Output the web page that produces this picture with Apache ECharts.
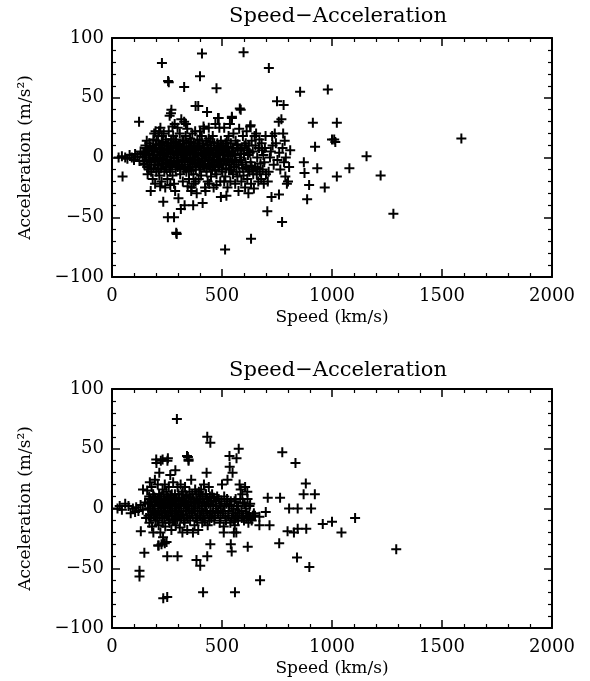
<!DOCTYPE html>
<html>
<head>
<meta charset="utf-8">
<script src="https://cdn.jsdelivr.net/npm/echarts@6/dist/echarts.min.js"></script>
<style>
  html, body { margin: 0; padding: 0; background: #fff; }
  #main { width: 590px; height: 681px; }
</style>
</head>
<body>
<div id="main"></div>
<script>
// axis ranges and labels
const chartTitle = 'Speed\u2212Acceleration';
const xName = 'Speed (km/s)';
const yName = 'Acceleration (m/s\u00b2)';
const xRange = [0, 2000];
const yRange = [-100, 100];

// upper panel: [speed km/s, acceleration m/s^2]
const topPoints = [
  // low speed tail
  [30,0],[45,1],[60,0],[70,-1],[80,2],[90,0],[100,-2],[105,3],[115,1],[125,-3],[130,5],[140,0],[145,-5],[150,3],[48,-16],[123,30],
  // cluster edges
  [155,8],[160,-8],[165,2],[170,12],[172,-3],[178,-12],[180,6],[185,-18],[188,15],[190,0],[195,-6],[198,22],[200,10],[176,-28],[192,20],[196,-22],[158,14],[162,-14],
  [205,-2],[208,5],[210,18],[212,-10],[215,-15],[218,8],[220,25],[222,0],[225,-20],[228,12],[230,-5],[232,3],[235,20],[238,-12],[240,6],[242,-25],[245,15],[248,-2],[250,10],[219,-24],[233,-37],[214,22],[226,18],[246,-8],
  [252,-18],[255,4],[258,22],[260,-8],[262,35],[265,12],[268,-3],[270,40],[272,8],[275,-15],[278,18],[280,0],[282,-22],[285,28],[288,5],[290,-10],[292,15],[295,-4],[298,25],[300,2],[265,-23],[254,-50],[282,-50],[292,-63],[302,-34],[313,-43],[268,37],[275,26],[263,-5],[287,-28],
  [302,10],[305,-6],[308,20],[310,-14],[312,4],[315,32],[318,-2],[320,14],[322,-20],[325,8],[328,30],[330,-8],[332,2],[335,18],[338,-12],[340,6],[342,24],[345,-4],[348,12],[350,-18],[344,-24],[330,-40],[325,-10],[336,28],
  [352,0],[355,16],[358,-8],[360,8],[362,-25],[365,20],[368,3],[370,-14],[372,12],[375,-5],[378,22],[380,-20],[382,7],[385,-30],[388,15],[390,-2],[392,43],[395,10],[398,-10],[400,22],[369,-40],[380,43],[360,-28],[372,-22],[394,-18],
  [402,4],[405,-15],[408,18],[410,-3],[412,-38],[415,10],[418,24],[420,-8],[422,2],[425,-28],[428,14],[430,-12],[432,38],[435,6],[438,-5],[440,16],[442,-22],[445,0],[448,10],[450,-16],[423,-25],[435,-20],[416,26],[440,25],
  [452,6],[455,-10],[458,18],[460,2],[462,-25],[465,12],[468,-6],[470,28],[472,4],[475,-14],[478,8],[480,-3],[482,33],[485,10],[488,-8],[490,2],[492,-20],[495,14],[498,-5],[500,6],[475,-23],[495,-33],[488,25],
  [502,-12],[505,10],[508,-2],[510,25],[512,4],[515,-16],[518,8],[520,-6],[522,14],[525,-25],[528,2],[530,18],[532,-10],[535,5],[538,-20],[540,12],[542,-4],[545,33],[548,8],[550,-14],[520,-32],[510,-20],[536,28],
  [552,20],[555,-8],[558,2],[560,-22],[562,14],[565,-4],[568,10],[570,-16],[572,6],[575,-28],[578,24],[580,-12],[582,0],[585,40],[588,-20],[590,8],[592,-6],[595,18],[598,-15],[600,3],
  [605,-25],[608,12],[610,-8],[612,22],[615,-18],[618,2],[620,-30],[622,10],[625,-12],[628,26],[630,-4],[632,-22],[635,14],[638,-10],[640,5],[645,-26],[648,18],[650,-8],
  [655,20],[658,-14],[660,0],[665,-20],[668,8],[670,15],[675,-5],[678,-18],[680,12],[685,-10],[688,2],[690,-22],[695,8],[698,18],[700,-14],
  [708,-20],[712,-12],[718,0],[722,5],[728,18],[730,10],[735,-6],[740,20],[745,12],[752,-2],[758,30],[760,4],[765,-10],[770,32],[775,8],[778,20],[782,-4],[785,14],[788,-16],[790,0],[795,-22],[800,-20],[805,-8],[810,6],
  // outliers
  [227,79],[255,64],[258,63],[328,59],[400,68],[409,87],[475,58],[598,88],[713,75],[581,41],[545,34],[485,33],[630,27],[750,47],[780,44],
  [855,55],[872,-4],[875,-13],[887,-35],[896,-23],[913,29],[923,9],[933,-9],[967,-25],[981,57],[1000,15],[1010,15],[1022,29],[1022,-16],[1015,13],
  [1079,-9],[1157,1],[1221,-15],[1279,-47],[1588,16],
  [294,-64],[514,-77],[632,-68],[706,-45],[759,-31],[725,-33],[773,-54]
];

// upper panel, solid core of the cloud
const topCore = [
  [142,4],[148,-6],[152,10],[157,-2],[163,6],[167,-10],[171,3],[174,9],[179,-4],[183,2],[186,8],[189,-9],[193,5],[197,-1],[201,-12],[203,14],[206,2],[209,-7],
  [213,11],[216,-3],[219,4],[223,-9],[226,7],[229,-1],[231,13],[234,-6],[237,2],[239,10],[243,-4],[247,6],[249,-10],[253,1],[256,12],[259,-5],[261,6],[264,-12],
  [267,3],[269,15],[273,-7],[276,5],[279,10],[281,-5],[284,-1],[287,13],[289,-6],[293,4],[296,9],[299,-8],[303,-3],[306,6],[309,11],[311,-9],[314,0],[317,8],
  [319,-6],[323,3],[326,14],[329,-3],[331,9],[334,-9],[337,4],[339,12],[343,-1],[346,6],[349,-10],[351,9],[354,-3],[357,3],[359,13],[361,-11],[364,5],[367,-6],
  [369,10],[373,-2],[376,7],[379,0],[381,-10],[384,4],[387,-4],[389,9],[393,2],[396,-6],[399,14],[403,-8],[406,6],[409,-1],[411,12],[414,-7],[417,3],[419,8],
  [423,-3],[426,5],[429,-9],[431,2],[434,11],[437,-2],[439,7],[443,-8],[446,4],[449,13],[453,-4],[456,3],[459,-7],[463,8],[466,0],[469,-11],[473,6],[476,-2],
  [479,12],[483,-6],[486,3],[489,7],[493,-3],[496,9],[499,-10],[503,2],[506,-5],[509,7],[513,-1],[516,12],[519,-9],[523,4],[526,-3],[529,9],[533,-6],[537,1],
  [541,-10],[544,5],[547,-2],[551,8],[556,-4],[561,3],[566,-12],[571,11],[576,-6],[583,6],[587,-2],[594,-9],[602,10],[607,-4],[614,6],[619,-10],[626,4],
  [634,-7],[642,-14],[652,10],[662,-9],[672,-12],[682,6],[692,-4]
];

// lower panel
const bottomPoints = [
  [25,0],[35,2],[45,-1],[60,4],[75,2],[85,-4],[95,0],[105,-3],[110,1],[120,-2],[130,3],[140,-1],
  [150,5],[155,-8],[160,15],[165,0],[170,-12],[172,22],[175,8],[178,-5],[180,18],[182,-15],[185,2],[188,-20],[190,10],[192,-3],[195,24],[198,-10],[200,6],
  [202,38],[205,-5],[208,20],[210,0],[212,-14],[215,30],[218,8],[220,-20],[222,40],[225,2],[228,-8],[230,16],[232,-24],[235,12],[238,-2],[240,20],[242,-15],[245,5],[248,-28],[250,10],[212,-31],[225,-30],[240,-29],
  [252,40],[255,-6],[258,18],[260,0],[262,-12],[265,28],[268,4],[270,-18],[272,12],[275,-4],[278,22],[280,6],[282,-10],[285,2],[288,32],[290,-14],[292,8],[295,-2],[298,18],[300,-6],
  [302,12],[305,0],[308,-16],[310,4],[312,20],[315,-8],[318,8],[320,-20],[322,14],[325,-2],[328,6],[330,-12],[332,18],[335,2],[338,-6],[340,10],[342,-18],[345,43],[348,40],[350,0],
  [352,14],[355,-10],[358,5],[360,24],[362,-4],[365,12],[368,-20],[370,8],[372,0],[375,-14],[378,16],[380,4],[382,-8],[385,12],[388,-2],[390,6],[392,-18],[395,14],[398,0],[400,8],
  [402,-6],[405,16],[408,2],[410,-12],[412,10],[415,-4],[418,20],[420,5],[422,-10],[425,12],[428,-2],[430,30],[432,8],[435,-14],[438,4],[440,18],[442,-6],[445,10],[448,-2],[450,6],
  [452,-8],[455,12],[460,2],[465,-10],[470,6],[475,0],[480,-4],[485,8],[490,-12],[495,2],[500,20],[505,-2],[508,-15],[508,-20],[510,10],[515,-6],[520,4],[525,24],[530,-2],[535,35],[540,6],[545,-8],[548,30],
  [552,0],[555,-10],[558,-14],[560,-4],[562,8],[565,-20],[570,-6],[575,2],[580,20],[585,16],[590,-8],[592,12],[595,5],[600,-10],[605,18],[608,0],[612,-4],[615,14],[618,-6],[620,-12],[625,2],[630,-8],[640,-6],[645,-4],[650,-6],
  [295,75],[433,60],[447,55],[576,50],[534,44],[566,42],[774,47],[834,38],[881,21],[922,12],[871,12],[708,9],[764,9],[805,0],[844,0],[905,0],
  [699,-3],[670,-7],[716,-14],[670,-14],[958,-13],[1000,-11],[1105,-8],[1043,-20],[798,-19],[827,-20],[844,-17],[883,-17],[760,-29],[841,-41],[897,-49],[1292,-34],
  [673,-60],[559,-70],[414,-70],[233,-75],[251,-74],[125,-52],[125,-57],[147,-37],[131,-19],[251,-40],[384,-43],[401,-48],[433,-40],[447,-30],[298,-40],
  [210,-31],[617,-32],[540,-30],[544,-36],[554,-20],[141,16],[201,41],[230,41],[254,42],[341,44],[348,41]
];

// lower panel, core of the cloud
const bottomCore = [
  [162,4],[166,-6],[169,10],[173,0],[176,-8],[179,6],[183,-2],[187,12],[191,-6],[194,3],[197,9],[199,-4],[203,5],[206,-10],[209,8],[211,-2],[214,12],[217,-6],
  [219,3],[223,10],[226,-4],[229,5],[231,-12],[234,1],[236,8],[239,-8],[241,4],[244,-3],[247,14],[249,-6],[253,2],[256,9],[259,-10],[261,4],[264,-2],[267,11],
  [269,-6],[273,3],[276,-10],[279,8],[283,-2],[286,12],[289,-6],[291,3],[294,7],[297,-9],[301,4],[304,-3],[307,9],[311,-8],[314,2],[317,12],[321,-5],[324,6],
  [327,-10],[331,4],[334,-2],[337,11],[341,2],[344,-8],[347,6],[353,-4],[357,9],[363,2],[367,-6],[374,6],[377,-2],[383,8],[387,-10],[393,4],[397,-6],[403,10],
  [407,-2],[413,5],[417,-8],[423,2],[427,12],[433,-4],[437,6],[443,-10],[447,3],[453,6],[458,-4],[463,9],[468,-6],[473,2],[478,10],[483,-3],[488,4],[493,-8],
  [498,6],[503,-4],[512,2],[518,-10],[523,8],[528,-6],[533,3],[538,-12],[543,2],[551,-4],[557,6],[563,-8],[568,2],[573,-10],[578,-4],[583,8],[588,-2],[596,-6],
  [603,4],[610,-8],[616,8],[623,-6],[628,4],[635,-10],[642,-6]
];

const font = 'DejaVu Serif';
const plus = 'path://M4,0h2v4h4v2h-4v4h-2v-4h-4v-2h4z';
const panels = [
  { top: 38, data: topPoints.concat(topCore) },
  { top: 389, data: bottomPoints.concat(bottomCore) }
];

function fmt(v) {
  return (v < 0 ? '\u2212' : '') + Math.abs(v);
}

const grids = [], xAxes = [], yAxes = [], series = [], titles = [];
panels.forEach(function (p, i) {
  grids.push({ left: 112, width: 440, top: p.top, height: 239 });
  titles.push({
    text: chartTitle, left: 333, top: p.top - 37 + i * 3, textAlign: 'center',
    textStyle: { fontFamily: font, fontSize: 21, fontWeight: 'normal', color: '#000' }
  });
  const line = { show: true, onZero: false, lineStyle: { color: '#000', width: 2 } };
  const tick = { show: true, inside: true, length: 8, lineStyle: { color: '#000', width: 1.5 } };
  const minor = { show: true, splitNumber: 5, length: 4, lineStyle: { color: '#000', width: 1.2 } };
  // bottom and top x axes
  xAxes.push({
    gridIndex: i, type: 'value', min: xRange[0], max: xRange[1], interval: 500,
    name: xName, nameLocation: 'middle', nameGap: 32,
    nameTextStyle: { fontFamily: font, fontSize: 17, color: '#000' },
    axisLine: line, axisTick: tick, minorTick: minor, splitLine: { show: false },
    axisLabel: { fontFamily: font, fontSize: 18, color: '#000', margin: 10, formatter: fmt }
  });
  xAxes.push({
    gridIndex: i, type: 'value', position: 'top', min: xRange[0], max: xRange[1], interval: 500,
    axisLine: line, axisTick: tick, minorTick: minor, splitLine: { show: false },
    axisLabel: { show: false }
  });
  // left and right y axes
  yAxes.push({
    gridIndex: i, type: 'value', min: yRange[0], max: yRange[1], interval: 50,
    name: yName, nameLocation: 'middle', nameGap: 78,
    nameTextStyle: { fontFamily: font, fontSize: 17, color: '#000' },
    axisLine: line, axisTick: tick, minorTick: minor, splitLine: { show: false },
    axisLabel: { fontFamily: font, fontSize: 18, color: '#000', margin: 8, formatter: fmt }
  });
  yAxes.push({
    gridIndex: i, type: 'value', position: 'right', min: yRange[0], max: yRange[1], interval: 50,
    axisLine: line, axisTick: tick, minorTick: minor, splitLine: { show: false },
    axisLabel: { show: false }
  });
  series.push({
    type: 'scatter', xAxisIndex: i * 2, yAxisIndex: i * 2,
    symbol: plus, symbolSize: 10,
    itemStyle: { color: '#000', opacity: 1 },
    data: p.data, animation: false
  });
});

const myChart = echarts.init(document.getElementById('main'));
myChart.setOption({
  backgroundColor: '#fff',
  animation: false,
  title: titles,
  grid: grids,
  xAxis: xAxes,
  yAxis: yAxes,
  series: series
});
</script>
</body>
</html>
